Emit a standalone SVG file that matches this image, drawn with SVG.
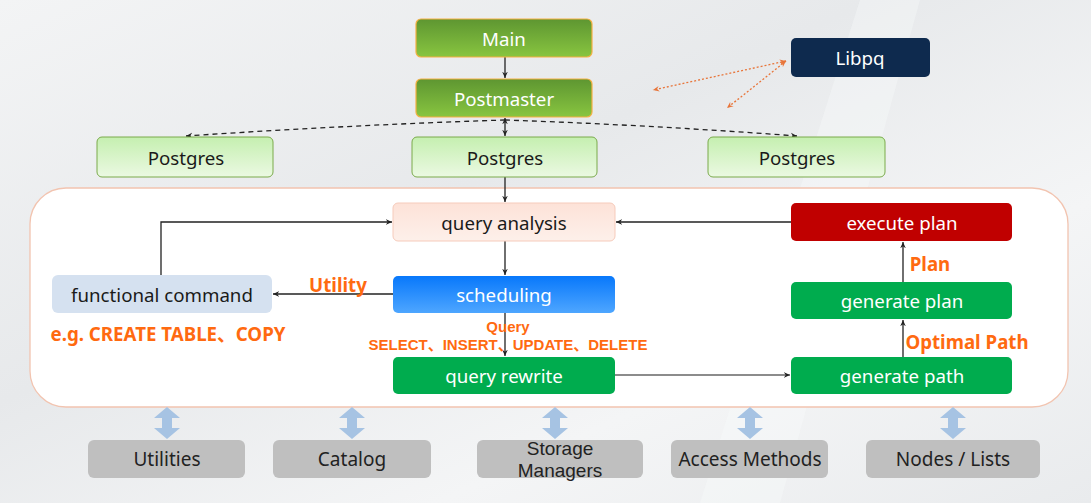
<svg xmlns="http://www.w3.org/2000/svg" width="1091" height="503" viewBox="0 0 1091 503">
<defs>
<linearGradient id="bg" x1="0" y1="0" x2="1" y2="1">
<stop offset="0" stop-color="#f3f4f5"/>
<stop offset="0.4" stop-color="#e7e9eb"/>
<stop offset="0.7" stop-color="#f4f5f6"/>
<stop offset="1" stop-color="#e9ebed"/>
</linearGradient>
<linearGradient id="gMain" x1="0" y1="0" x2="0" y2="1">
<stop offset="0" stop-color="#5e9631"/>
<stop offset="1" stop-color="#88c540"/>
</linearGradient>
<linearGradient id="gPg" x1="0" y1="0" x2="0" y2="1">
<stop offset="0" stop-color="#c5efb0"/>
<stop offset="1" stop-color="#ebf9e2"/>
</linearGradient>
<linearGradient id="gSched" x1="0" y1="0" x2="0" y2="1">
<stop offset="0" stop-color="#0878fb"/>
<stop offset="1" stop-color="#4ea6ff"/>
</linearGradient>
<linearGradient id="gQa" x1="0" y1="0" x2="0" y2="1">
<stop offset="0" stop-color="#fde2d8"/>
<stop offset="1" stop-color="#fdf0ea"/>
</linearGradient>
<marker id="ah" viewBox="0 0 10 10" refX="9" refY="5" markerWidth="7" markerHeight="7" orient="auto-start-reverse" markerUnits="userSpaceOnUse">
<path d="M0,1 L9,5 L0,9 L3,5 z" fill="#222"/>
</marker>
<marker id="ahO" viewBox="0 0 10 10" refX="9" refY="5" markerWidth="7" markerHeight="7" orient="auto-start-reverse" markerUnits="userSpaceOnUse">
<path d="M0,1 L9,5 L0,9 L3,5 z" fill="#e8753a"/>
</marker>
<path id="blk" d="M0,-16 L13,-5 L5,-5 L5,5 L13,5 L0,16 L-13,5 L-5,5 L-5,-5 L-13,-5 z" fill="#a6c3e3"/>
</defs>
<style>
text{font-family:"Noto Sans","Open Sans","Liberation Sans","Noto Sans CJK SC",sans-serif;text-anchor:middle;dominant-baseline:central}
.w{fill:#fff;font-size:18.7px}
.d{fill:#1a1a1a;font-size:18.7px}
.lbl{fill:#ff6a10;font-weight:bold;font-size:18.7px}
.sm{font-size:15px;font-family:"Liberation Sans","Noto Sans CJK SC",sans-serif}
.ln{stroke:#222;stroke-width:1.3;fill:none}
.gray{fill:#bfbfbf}
.bt{fill:#222;font-size:19px}
.bt2{fill:#222;font-size:19px;font-family:"Liberation Sans",sans-serif}
</style>
<rect width="1091" height="503" fill="url(#bg)"/>
<path d="M700,503 L860,0 L920,0 L780,503 z" fill="#fafbfb" opacity="0.35"/>

<rect x="30" y="188" width="1038" height="219" rx="36" fill="#fff" stroke="#f2c4b0" stroke-width="1.3"/>

<g id="connectors">
<line class="ln" x1="505" y1="57" x2="505" y2="78" marker-end="url(#ah)"/>
<line class="ln" x1="505" y1="118" x2="505" y2="136" marker-start="url(#ah)" marker-end="url(#ah)"/>
<path class="ln" d="M505,120 Q350,125 186,136" stroke-dasharray="5,4" marker-end="url(#ah)"/>
<path class="ln" d="M505,120 Q650,125 797,136" stroke-dasharray="5,4" marker-end="url(#ah)"/>
<line x1="786" y1="61" x2="653" y2="90" stroke="#e8753a" stroke-width="1.3" stroke-dasharray="2,2" marker-start="url(#ahO)" marker-end="url(#ahO)"/>
<line x1="786" y1="61" x2="727" y2="108" stroke="#e8753a" stroke-width="1.3" stroke-dasharray="2,2" marker-start="url(#ahO)" marker-end="url(#ahO)"/>
<line class="ln" x1="505" y1="177" x2="505" y2="202" marker-end="url(#ah)"/>
<line class="ln" x1="505" y1="241" x2="505" y2="275" marker-end="url(#ah)"/>
<line class="ln" x1="505" y1="313" x2="505" y2="356" marker-end="url(#ah)"/>
<line class="ln" x1="393" y1="294" x2="273" y2="294" marker-end="url(#ah)"/>
<polyline class="ln" points="161,275 161,222 392,222" marker-end="url(#ah)"/>
<line class="ln" x1="791" y1="222" x2="616" y2="222" marker-end="url(#ah)"/>
<line x1="615" y1="375" x2="790" y2="375" stroke="#666" stroke-width="1.6" marker-end="url(#ah)"/>
<line class="ln" x1="903" y1="357" x2="903" y2="320" marker-end="url(#ah)"/>
<line class="ln" x1="903" y1="282" x2="903" y2="242" marker-end="url(#ah)"/>
<use href="#blk" x="167" y="423"/>
<use href="#blk" x="352" y="423"/>
<use href="#blk" x="555" y="423"/>
<use href="#blk" x="750" y="423"/>
<use href="#blk" x="953" y="423"/>
</g>

<g id="main"><rect x="416" y="19" width="176" height="38" rx="5" fill="url(#gMain)" stroke="#f6b043" stroke-width="1.2"/><text class="w" x="504" y="38">Main</text></g>
<g id="postmaster"><rect x="416" y="79" width="176" height="38" rx="5" fill="url(#gMain)" stroke="#f6b043" stroke-width="1.2"/><text class="w" x="504" y="98">Postmaster</text></g>
<g id="libpq"><rect x="791" y="38" width="139" height="39" rx="5" fill="#0e2a4e"/><text class="w" x="860" y="57">Libpq</text></g>
<g id="pg1"><rect x="97" y="137" width="176" height="40" rx="5" fill="url(#gPg)" stroke="#7aaa4b"/><text class="d" x="186" y="157">Postgres</text></g>
<g id="pg2"><rect x="412" y="137" width="185" height="40" rx="5" fill="url(#gPg)" stroke="#7aaa4b"/><text class="d" x="505" y="157">Postgres</text></g>
<g id="pg3"><rect x="708" y="137" width="177" height="40" rx="5" fill="url(#gPg)" stroke="#7aaa4b"/><text class="d" x="797" y="157">Postgres</text></g>

<g id="qa"><rect x="393" y="203" width="222" height="38" rx="5" fill="url(#gQa)" stroke="#f6cbbb"/><text class="d" x="504" y="222">query analysis</text></g>
<g id="sched"><rect x="393" y="276" width="222" height="37" rx="5" fill="url(#gSched)"/><text class="w" x="504" y="294">scheduling</text></g>
<g id="qr"><rect x="393" y="357" width="222" height="37" rx="5" fill="#00ac4e"/><text class="w" x="504" y="375">query rewrite</text></g>
<g id="fc"><rect x="52" y="275" width="220" height="38" rx="6" fill="#d5e1f0"/><text class="d" x="162" y="294">functional command</text></g>
<g id="ep"><rect x="791" y="203" width="221" height="38" rx="5" fill="#c00000"/><text class="w" x="902" y="222">execute plan</text></g>
<g id="gpl"><rect x="791" y="282" width="221" height="37" rx="5" fill="#00ac4e"/><text class="w" x="902" y="300">generate plan</text></g>
<g id="gpa"><rect x="791" y="357" width="221" height="37" rx="5" fill="#00ac4e"/><text class="w" x="902" y="375">generate path</text></g>

<g id="labels">
<text class="lbl" x="338" y="284">Utility</text>
<text class="lbl" x="168" y="333">e.g. CREATE TABLE、COPY</text>
<text class="lbl sm" x="508" y="326">Query</text>
<text class="lbl sm" x="508" y="344">SELECT、INSERT、UPDATE、DELETE</text>
<text class="lbl" x="930" y="263">Plan</text>
<text class="lbl" x="967" y="341">Optimal Path</text>
</g>

<g id="utilities"><rect class="gray" x="88" y="440" width="157" height="38" rx="6"/><text class="bt" x="167" y="459">Utilities</text></g>
<g id="catalog"><rect class="gray" x="273" y="440" width="158" height="38" rx="6"/><text class="bt" x="352" y="459">Catalog</text></g>
<g id="storage"><rect class="gray" x="477" y="440" width="166" height="38" rx="6"/><text class="bt2" x="560" y="448">Storage</text><text class="bt2" x="560" y="470">Managers</text></g>
<g id="access"><rect class="gray" x="671" y="440" width="157" height="38" rx="6"/><text class="bt" x="750" y="459">Access Methods</text></g>
<g id="nodes"><rect class="gray" x="866" y="440" width="174" height="38" rx="6"/><text class="bt" x="953" y="459">Nodes / Lists</text></g>
</svg>
